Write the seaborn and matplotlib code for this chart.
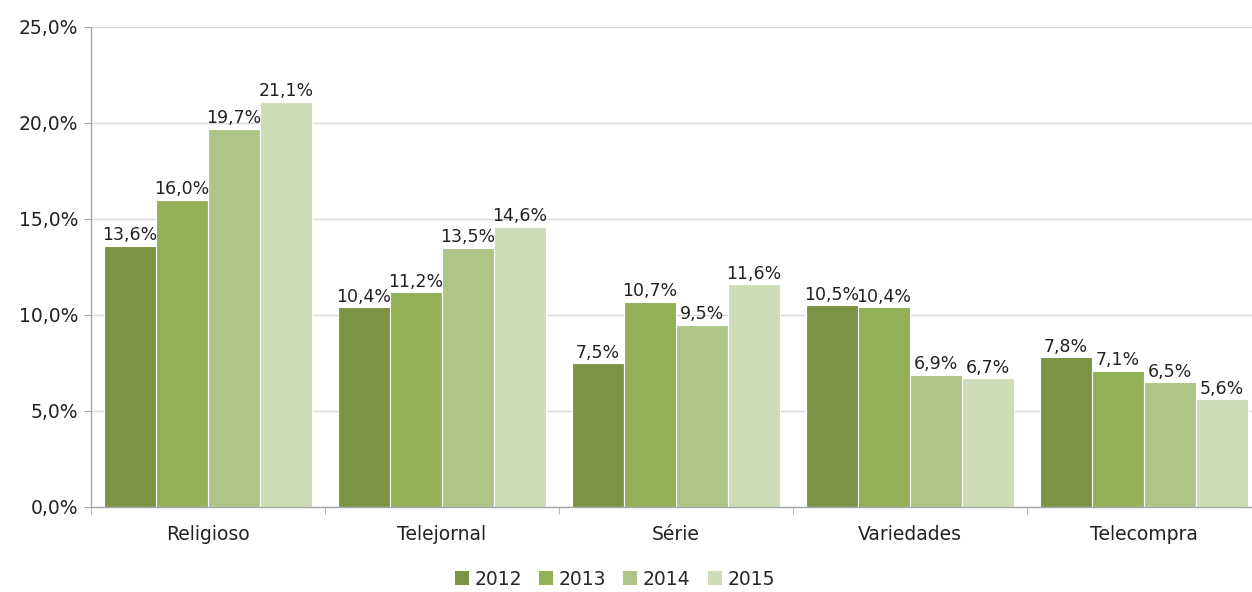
import matplotlib

matplotlib.use("Agg")

import matplotlib.pyplot as plt
import pandas as pd
import seaborn as sns
from matplotlib.ticker import FuncFormatter, FixedLocator

categories = ["Religioso", "Telejornal", "Série", "Variedades", "Telecompra"]
years = ["2012", "2013", "2014", "2015"]
v2012 = [13.6, 10.4, 7.5, 10.5, 7.8]
v2013 = [16.0, 11.2, 10.7, 10.4, 7.1]
v2014 = [19.7, 13.5, 9.5, 6.9, 6.5]
v2015 = [21.1, 14.6, 11.6, 6.7, 5.6]
colors = ["#7A9443", "#92B055", "#ADC687", "#CEDDB8"]

rows = []
for year, vals in zip(years, [v2012, v2013, v2014, v2015]):
    for cat, v in zip(categories, vals):
        rows.append({"categoria": cat, "ano": year, "valor": v})
df = pd.DataFrame(rows)

sns.set_style("white")
plt.rcParams["font.family"] = ["DejaVu Sans"]

fig = plt.figure(figsize=(12.52, 5.92), dpi=100)
ax = fig.add_axes([91 / 1252, 1 - 507 / 592, 1170 / 1252, 480 / 592])

sns.barplot(data=df, x="categoria", y="valor", hue="ano", palette=colors,
            saturation=1, width=0.89, gap=0, edgecolor="white",
            linewidth=0.8, ax=ax)

fmt = lambda v: f"{v:.1f}%".replace(".", ",")
for cont in ax.containers:
    ax.bar_label(cont, labels=[fmt(b.get_height()) for b in cont],
                 padding=1, fontsize=12.5, color="#222222")

ax.set_ylim(0, 25)
ax.set_xlim(-0.5, 4.5)
ax.set_yticks([0, 5, 10, 15, 20, 25])
ax.yaxis.set_major_formatter(FuncFormatter(lambda v, p: fmt(v)))
ax.grid(axis="y", color="#D9D9D9", linewidth=1)
ax.set_axisbelow(True)
ax.set_xlabel("")
ax.set_ylabel("")

for s in ["top", "right"]:
    ax.spines[s].set_visible(False)
for s in ["left", "bottom"]:
    ax.spines[s].set_color("#A6A6A6")
    ax.spines[s].set_linewidth(1)

ax.tick_params(axis="y", length=5, color="#A6A6A6", labelsize=13.5,
               labelcolor="#222222", pad=4, left=True)
ax.tick_params(axis="x", which="major", length=0, labelsize=13.5,
               labelcolor="#222222", pad=13)
ax.xaxis.set_minor_locator(FixedLocator([-0.5, 0.5, 1.5, 2.5, 3.5, 4.5]))
ax.tick_params(axis="x", which="minor", length=5, color="#A6A6A6", bottom=True)

ax.legend(loc="upper center", bbox_to_anchor=(524 / 1170, -0.115), ncol=4,
          frameon=False, fontsize=13.5, handlelength=0.75, handleheight=0.75,
          handletextpad=0.3, columnspacing=0.9, borderaxespad=0)
for h in ax.get_legend().legend_handles:
    h.set_edgecolor("none")

fig.savefig("out.png", dpi=100)
